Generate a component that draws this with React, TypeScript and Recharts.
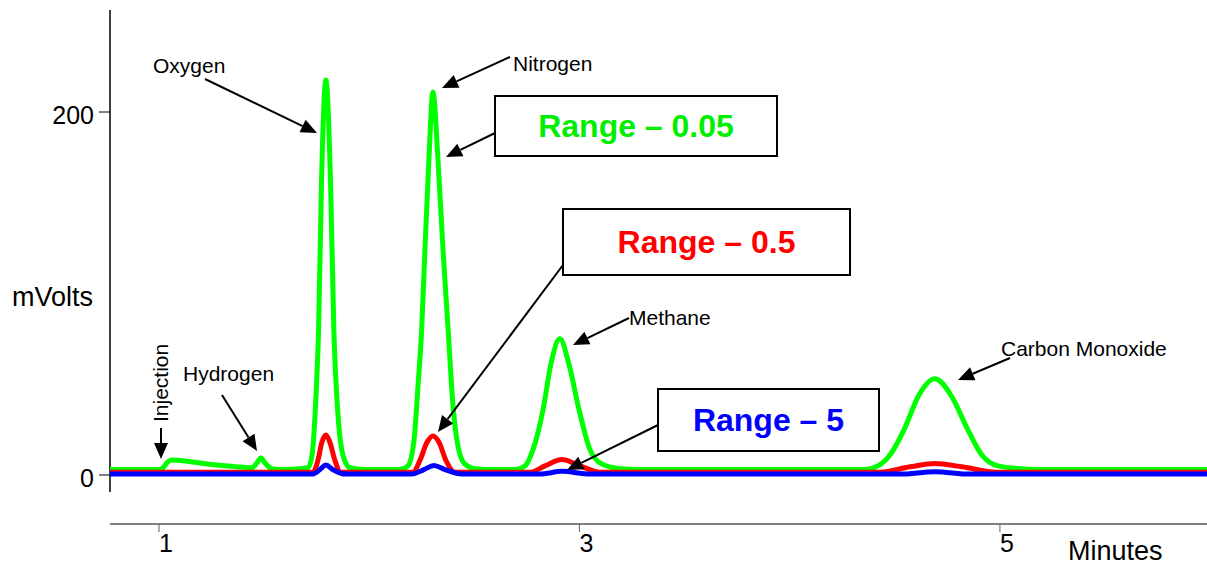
import { LineChart, Line, XAxis, YAxis, ReferenceLine } from "recharts";

// Range 0.05 trace (green) - minutes / mVolts
const greenTimes = [
  0.767, 1.0, 1.02, 1.04, 1.06, 1.1, 1.195, 1.3, 1.385, 1.43, 1.442, 1.465, 1.485, 1.505, 1.537, 1.6,
  1.709, 1.728, 1.747, 1.759, 1.773, 1.794, 1.816, 1.832, 1.851, 1.875, 1.908, 1.98,
  2.146, 2.184, 2.213, 2.232, 2.249, 2.265, 2.284, 2.303, 2.327, 2.351, 2.376, 2.398, 2.422, 2.455, 2.503, 2.6,
  2.693, 2.741, 2.779, 2.827, 2.864, 2.907, 2.95, 2.998, 3.05, 3.107, 3.193, 3.335,
  4.358, 4.42, 4.477, 4.548, 4.61, 4.691, 4.772, 4.843, 4.914, 4.99, 5.095, 5.238, 5.985,
];
const greenValues = [
  3, 3, 4, 7, 8.3, 8, 6.6, 5.2, 4.4, 4, 4, 6.5, 9.4, 6.5, 3.5, 3,
  4, 11, 44, 79, 161, 217.6, 161, 79, 34, 11, 4, 3,
  3, 5, 19, 49, 79, 124, 174, 211, 174, 124, 79, 39, 16, 6, 3.5, 3,
  3, 5, 14, 36, 61, 75, 61, 36, 14, 6, 3.5, 3,
  3, 5, 11, 26, 43, 53, 43, 26, 11, 5, 3.5, 3, 3,
];

// Range 0.5 trace (red)
const redTimes = [
  0.767, 1.732, 1.756, 1.775, 1.794, 1.813, 1.837, 1.865,
  2.208, 2.241, 2.275, 2.303, 2.332, 2.365, 2.408,
  2.765, 2.836, 2.917, 3.003, 3.098,
  4.429, 4.572, 4.691, 4.82, 4.986, 5.985,
];
const redValues = [
  1.5, 1.5, 8, 18, 22, 18, 8, 1.5,
  1.5, 8, 18, 21.5, 18, 8, 1.5,
  1.5, 5, 8.5, 5, 1.5,
  1.5, 4.5, 6.3, 4.5, 1.5, 1.5,
];

// Range 5 trace (blue)
const blueTimes = [
  0.767, 1.732, 1.766, 1.794, 1.827, 1.885,
  2.203, 2.26, 2.308, 2.36, 2.441,
  2.812, 2.917, 3.05,
  4.524, 4.691, 4.857, 5.985,
];
const blueValues = [
  0.5, 0.5, 3, 5.5, 3, 0.5,
  0.5, 3, 5.2, 3, 0.5,
  0.5, 2, 0.5,
  0.5, 1.8, 0.5, 0.5,
];

const xTicks = [1, 3, 5];
const yTicks = [0, 200];

const toRows = (ts: number[], vs: number[]) => ts.map((t, i) => ({ t, v: vs[i] }));

const FONT = '"Liberation Sans", Arial, sans-serif';
const W = 1207;
const H = 567;

function XTick({ x, y, payload }: any) {
  return (
    <text x={x} y={y + 18} textAnchor="start" fontSize={25} fontFamily={FONT} fill="#000">
      {payload.value}
    </text>
  );
}

function YTick({ x, y, payload }: any) {
  return (
    <text x={x} y={y + 12} textAnchor="end" fontSize={25} fontFamily={FONT} fill="#000">
      {payload.value}
    </text>
  );
}

// straight callout arrow with a filled triangular head at (x2, y2)
function Arrow({ x1, y1, x2, y2 }: { x1: number; y1: number; x2: number; y2: number }) {
  const dx = x2 - x1;
  const dy = y2 - y1;
  const len = Math.hypot(dx, dy);
  const ux = dx / len;
  const uy = dy / len;
  const hl = 16;
  const hw = 7;
  const bx = x2 - ux * hl;
  const by = y2 - uy * hl;
  const pts = `${x2},${y2} ${bx - uy * hw},${by + ux * hw} ${bx + uy * hw},${by - ux * hw}`;
  return (
    <g>
      <line x1={x1} y1={y1} x2={bx} y2={by} stroke="#000" strokeWidth={2} />
      <polygon points={pts} fill="#000" />
    </g>
  );
}

function Callout({ x, y, w, h, text, color }: any) {
  return (
    <g>
      <rect x={x} y={y} width={w} height={h} fill="#fff" stroke="#000" strokeWidth={2} />
      <text
        x={x + w / 2}
        y={y + h / 2 + 11}
        textAnchor="middle"
        fontSize={32}
        fontWeight="bold"
        fontFamily={FONT}
        fill={color}
      >
        {text}
      </text>
    </g>
  );
}

export default function App() {
  const label = { fontSize: 21, fontFamily: FONT, fill: "#000" };
  return (
    <div style={{ position: "absolute", left: 0, top: 0, width: W, height: H, background: "#fff" }}>
      <LineChart width={W} height={H} margin={{ top: 10, right: 0, bottom: 0, left: 0 }}>
        <XAxis
          type="number"
          dataKey="t"
          domain={[0.767, 5.985]}
          ticks={xTicks}
          allowDataOverflow
          height={43}
          axisLine={{ stroke: "#808080", strokeWidth: 2 }}
          tickLine={{ stroke: "#606060", strokeWidth: 1 }}
          tickSize={8}
          tickMargin={2}
          tick={<XTick />}
        />
        <YAxis
          type="number"
          domain={[-27, 256.2]}
          ticks={yTicks}
          allowDataOverflow
          width={110}
          axisLine={false}
          tickLine={{ stroke: "#000", strokeWidth: 1 }}
          tickSize={11}
          tickMargin={5}
          tick={<YTick />}
        />
        <ReferenceLine
          segment={[
            { x: 0.767, y: -9.4 },
            { x: 0.767, y: 256.2 },
          ]}
          stroke="#000"
          strokeWidth={1.5}
          ifOverflow="visible"
        />
        <Line
          data={toRows(greenTimes, greenValues)}
          dataKey="v"
          type="monotone"
          stroke="#00ff00"
          strokeWidth={5}
          dot={false}
          isAnimationActive={false}
        />
        <Line
          data={toRows(redTimes, redValues)}
          dataKey="v"
          type="monotone"
          stroke="#ff0000"
          strokeWidth={5}
          dot={false}
          isAnimationActive={false}
        />
        <Line
          data={toRows(blueTimes, blueValues)}
          dataKey="v"
          type="monotone"
          stroke="#0000ff"
          strokeWidth={5}
          dot={false}
          isAnimationActive={false}
        />
      </LineChart>

      <svg
        width={W}
        height={H}
        style={{ position: "absolute", left: 0, top: 0, pointerEvents: "none" }}
      >
        <text x={12} y={306} fontSize={27} fontFamily={FONT} fill="#000">mVolts</text>
        <text x={1068} y={560} fontSize={27} fontFamily={FONT} fill="#000">Minutes</text>

        <text x={153} y={73} {...label}>Oxygen</text>
        <Arrow x1={205} y1={79} x2={317} y2={133} />

        <text x={513} y={71} {...label}>Nitrogen</text>
        <Arrow x1={510} y1={57} x2={442} y2={88} />

        <text x={629} y={325} {...label}>Methane</text>
        <Arrow x1={629} y1={318} x2={573} y2={345} />

        <text x={1001} y={356} {...label}>Carbon Monoxide</text>
        <Arrow x1={1010} y1={358} x2={958} y2={380} />

        <text x={183} y={381} {...label}>Hydrogen</text>
        <Arrow x1={222} y1={395} x2={257} y2={451} />

        <text transform="translate(168,422) rotate(-90)" {...label}>Injection</text>
        <Arrow x1={161} y1={428} x2={161} y2={459} />

        <Arrow x1={495} y1={133} x2={446} y2={157} />
        <Arrow x1={563} y1={265} x2={438} y2={432} />
        <Arrow x1={658} y1={425} x2={567} y2={470} />

        <Callout x={495} y={96} w={282} h={60} text="Range – 0.05" color="#00ee00" />
        <Callout x={563} y={209} w={287} h={66} text="Range – 0.5" color="#ff0000" />
        <Callout x={658} y={389} w={221} h={62} text="Range – 5" color="#0000ff" />
      </svg>
    </div>
  );
}
